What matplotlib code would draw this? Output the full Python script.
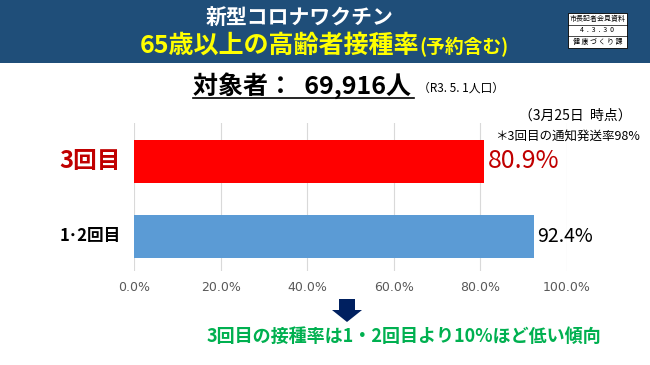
import matplotlib
matplotlib.use("Agg")
import matplotlib.pyplot as plt
from matplotlib.patches import Rectangle, Polygon

plt.rcParams['font.family'] = ['Noto Sans CJK JP', 'DejaVu Sans']

# data
categories = ["1･2回目", "3回目"]
rates = [92.4, 80.9]
bar_colors = ["#5B9BD5", "#FF0000"]
label_colors = ["#000000", "#C00000"]
label_sizes = [12, 17]
value_sizes = [14, 18]
x_ticks = [0, 20, 40, 60, 80, 100]
target_pop = "69,916"

W, H = 650, 365


def fx(x):
    return x / W


def fy(y):
    return 1 - y / H


fig = plt.figure(figsize=(6.5, 3.65), dpi=100)

# header band
fig.patches.append(Rectangle((0, fy(63)), 1, 63 / H, transform=fig.transFigure,
                             facecolor="#1F4E79", edgecolor="none", zorder=0))
fig.text(fx(300), fy(18), "新型コロナワクチン", color="white", fontsize=15,
         fontweight="bold", ha="center", va="center")
fig.text(fx(419), fy(46), "65歳以上の高齢者接種率", color="#FFFF00", fontsize=18,
         fontweight="bold", ha="right", va="center")
fig.text(fx(419), fy(47), "(予約含む)", color="#FFFF00", fontsize=13.5,
         fontweight="bold", ha="left", va="center")

# small press-release box
bx0, by0, bx1, by1 = 568, 13, 627, 48
fig.patches.append(Rectangle((fx(bx0), fy(by1)), (bx1 - bx0) / W, (by1 - by0) / H,
                             transform=fig.transFigure, facecolor="white",
                             edgecolor="black", linewidth=0.6, zorder=2))
row_h = (by1 - by0) / 3
box_rows = ["市長記者会見資料", "4  .  3  .  3  0", "健 康 づ く り 課"]
for i, t in enumerate(box_rows):
    if i > 0:
        fig.add_artist(plt.Line2D([fx(bx0), fx(bx1)], [fy(by0 + i * row_h)] * 2,
                                  color="black", linewidth=0.5, zorder=3))
    fig.text(fx((bx0 + bx1) / 2), fy(by0 + (i + 0.5) * row_h), t, fontsize=5,
             ha="center", va="center", zorder=4)

# target population
fig.text(fx(193), fy(86), "対象者：  " + target_pop + "人", fontsize=18,
         fontweight="bold", ha="left", va="center")
fig.add_artist(plt.Line2D([fx(193), fx(414)], [fy(98)] * 2, color="black", linewidth=1.2))
fig.text(fx(418), fy(88), "（R3. 5. 1人口）", fontsize=8.5, ha="left", va="center")

fig.text(fx(632), fy(116), "（3月25日  時点）", fontsize=10, ha="right", va="center")
fig.text(fx(640), fy(136), "＊3回目の通知発送率98%", fontsize=9, ha="right", va="center")

# bar chart
ax = fig.add_axes([fx(134), fy(271), (567 - 134) / W, (271 - 123) / H])
pos = list(range(len(categories)))
ax.barh(pos, rates, height=0.57, color=bar_colors, zorder=2)
ax.set_xlim(0, 100)
ax.set_ylim(-0.46, 1.51)
ax.set_xticks(x_ticks)
ax.set_xticklabels([f"{t:.1f}%" for t in x_ticks], color="#595959", fontsize=9,
                   family=['DejaVu Sans'])
ax.tick_params(axis="x", length=0, pad=7)
ax.set_yticks(pos)
ax.set_yticklabels([])
ax.tick_params(axis="y", length=0)
ax.grid(axis="x", color="#D9D9D9", linewidth=0.8, zorder=0)
for s in ax.spines.values():
    s.set_visible(False)

for p, c, r, lc, ls, vs in zip(pos, categories, rates, label_colors, label_sizes, value_sizes):
    ax.text(-3, p, c, color=lc, fontsize=ls, fontweight="bold", ha="right", va="center")
    ax.text(r + 0.8, p, f"{r:.1f}%", color=lc, fontsize=vs, ha="left", va="center")

# arrow and conclusion
ax_c = 347
arrow = [(ax_c - 8, 299), (ax_c + 8, 299), (ax_c + 8, 310), (ax_c + 15, 310),
         (ax_c, 322), (ax_c - 15, 310), (ax_c - 8, 310)]
fig.patches.append(Polygon([(fx(x), fy(y)) for x, y in arrow], closed=True,
                           transform=fig.transFigure, facecolor="#002060",
                           edgecolor="none"))
fig.text(fx(404), fy(336), "3回目の接種率は1・2回目より10%ほど低い傾向", color="#00B050",
         fontsize=13, fontweight="bold", ha="center", va="center")

fig.savefig("out.png", dpi=100)
